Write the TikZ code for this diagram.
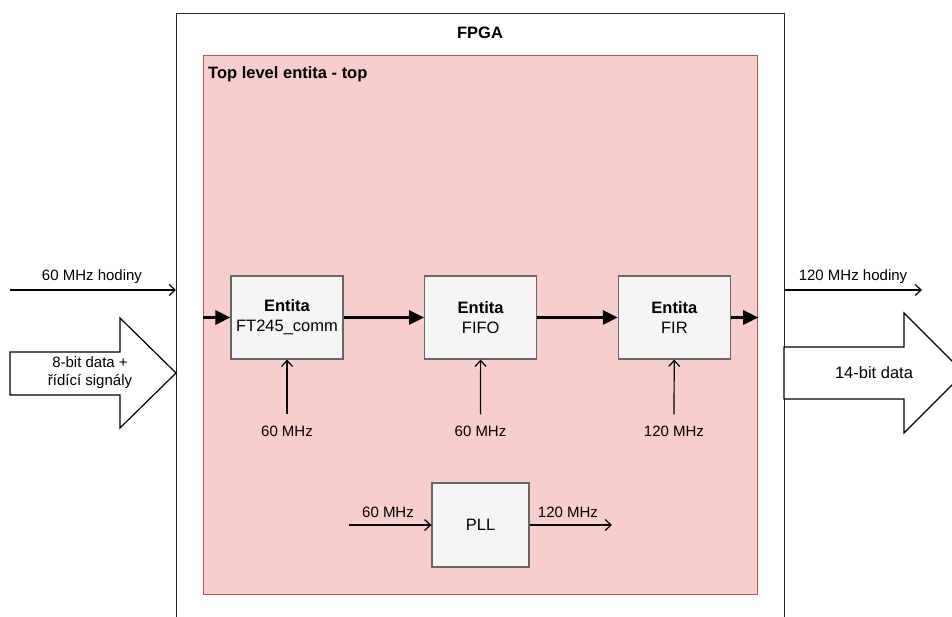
\documentclass[tikz,border=0pt]{standalone}
\usepackage{fontspec}
\setmainfont{Liberation Sans}
\usepackage{xcolor}
\usepackage{tikz}
\usetikzlibrary{arrows.meta, positioning}
\definecolor{pinkfill}{HTML}{F8CECC}
\definecolor{pinkline}{HTML}{B85450}
\definecolor{boxfill}{HTML}{F5F5F5}
\definecolor{boxline}{HTML}{666666}

\begin{document}
\begin{tikzpicture}[
  x=1pt, y=-1pt,
  font=\fontsize{15}{18}\selectfont,
  node distance=80.5pt,
  entity/.style={draw=boxline, fill=boxfill, line width=1.2pt, minimum width=112pt, minimum height=83pt, align=center, inner sep=0pt, font=\fontsize{16.5}{20}\selectfont},
  bus/.style={-{Triangle[length=15pt,width=14pt]}, line width=3pt},
  clk/.style={-{Straight Barb[length=6pt,width=11pt]}, line width=1.2pt},
  fat/.style={draw=black, fill=white, line width=1.2pt},
  txt/.style={inner sep=0pt, align=center},
  title/.style={inner sep=0pt, font=\fontsize{16.5}{20}\selectfont\bfseries}
]
\clip (0,0) rectangle (952,617);
\fill[white] (0,0) rectangle (952,617);

% FPGA and top level entity
\node[draw=black!85, line width=1.2pt, minimum width=608pt, minimum height=660pt, anchor=north west, inner sep=0pt] (fpga) at (176,13) {};
\node[title] (fpgalbl) at (480,33) {FPGA};
\node[draw=pinkline, fill=pinkfill, line width=1.2pt, minimum width=554pt, minimum height=539pt, anchor=north west, inner sep=0pt] (top) at (203,55) {};
\node[title, anchor=west] (toplbl) at (208,74) {Top level entita - top};

% entities
\node[entity] (ft) at (287,317.5) {\textbf{Entita}\\FT245\_comm};
\node[entity, right=of ft] (fifo) {\textbf{Entita}\\FIFO};
\node[entity, right=of fifo] (fir) {\textbf{Entita}\\FIR};

\draw[bus] (top.west |- ft) -- (ft);
\draw[bus] (ft) -- (fifo);
\draw[bus] (fifo) -- (fir);
\draw[bus] (fir) -- (fir -| top.east);

% clocks
\node[txt] (ftclk) at (287,431) {60 MHz};
\node[txt] (fifoclk) at (480.5,431) {60 MHz};
\node[txt] (firclk) at (674,431) {120 MHz};
\draw[clk] ([yshift=11pt]ftclk.north) -- (ft);
\draw[clk] ([yshift=11pt]fifoclk.north) -- (fifo);
\draw[clk] ([yshift=11pt]firclk.north) -- (fir);

% PLL
\node[entity, minimum width=97pt, minimum height=84pt] (pll) at (480.5,525) {PLL};
\coordinate (pllin) at (349,525);
\coordinate (pllout) at (612,525);
\draw[clk] (pllin) -- (pll);
\draw[clk] (pll) -- (pllout);
\node[txt] (pllinlbl) at (388,512) {60 MHz};
\node[txt] (plloutlbl) at (568,512) {120 MHz};

% inputs
\coordinate (clkin) at (10,290);
\draw[clk] (clkin) -- (clkin -| fpga.west);
\node[txt] (clkinlbl) at (92,277) {60 MHz hodiny};
\draw[fat] (10,352) -- (120,352) -- (120,318) -- (176,373) -- (120,428) -- (120,395) -- (10,395) -- cycle;
\node[txt] (datain) at (90,373) {8-bit data +\\řídící signály};

% outputs
\coordinate (clkout) at (922,290);
\draw[clk] (clkout -| fpga.east) -- (clkout);
\node[txt] (clkoutlbl) at (853,277) {120 MHz hodiny};
\draw[fat] (784,347) -- (904,347) -- (904,313) -- (964,373) -- (904,433) -- (904,399) -- (784,399) -- cycle;
\node[txt, font=\fontsize{16.5}{20}\selectfont] (dataout) at (874,373) {14-bit data};
\end{tikzpicture}
\end{document}
